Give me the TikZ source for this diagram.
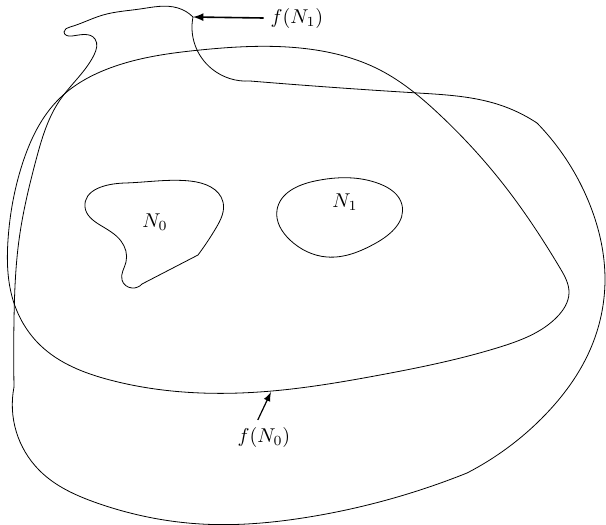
\documentclass[tikz,border=0pt]{standalone}
\usepackage{amsmath}
\usetikzlibrary{hobby}

\begin{document}
\begin{tikzpicture}[x=0.5pt, y=-0.5pt, >=latex]
    \useasboundingbox (0,0) rectangle (606,525);

    % 1. 区域 N_0 与 N_1
    \draw[thin] plot[hobby] coordinates {
        (198,255) (216,228) (223,202) (190,181) (125,183) (85,207)
        (100,225) (121,241) (126,262) (122,280) (132,288) (142,284)} -- cycle;
    \draw[thin] plot[closed hobby] coordinates {
        (277,210) (315,181) (380,184) (402,205)
        (376,243) (327,257) (290,240)};
    \node (N0) at (155,222) {$N_0$};
    \node (N1) at (345,202) {$N_1$};

    % 2. 像 f(N_0)
    \draw[thin] plot[closed hobby] coordinates {
        (200,50) (300,48) (380,70) (440,115) (500,180) (560,268)
        (569,293) (557,317) (500,347) (380,375) (272,391)
        (201,393) (110,380) (40,345) (13,300) (8,240)
        (22,165) (60,98) (110,68)};

    % 3. 像 f(N_1) (分段画, 保留折角)
    \draw[thin] plot[hobby] coordinates {
        (193,17) (178,8) (140,9) (103,15) (70,27) (64,32) (72,36)
        (95,39) (94,55) (60,100) (36,160) (19,240) (14,320) (14,387)};
    \draw[thin] plot[hobby] coordinates {
        (14,387) (39,470) (97,503) (201,524) (309,517) (467,473)};
    \draw[thin] plot[hobby] coordinates {
        (467,473) (545,415) (590,350) (605,280) (590,205) (537,123)};
    \draw[thin] plot[hobby] coordinates {
        (537,123) (500,105) (418,93) (250,81)};
    \draw[thin] plot[hobby] coordinates {
        (250,81) (212,69) (195,45) (193,17)};

    % 4. 标注
    \coordinate (n1tip) at (193,17);
    \coordinate (n0tip) at (271,392);
    \node (fN1) at (297,18) {$f(N_1)$};
    \node (fN0) at (264,437) {$f(N_0)$};
    \draw[->, thick] (fN1.west) -- (n1tip);
    \draw[->, semithick] (fN0.110) -- (n0tip);
\end{tikzpicture}
\end{document}
